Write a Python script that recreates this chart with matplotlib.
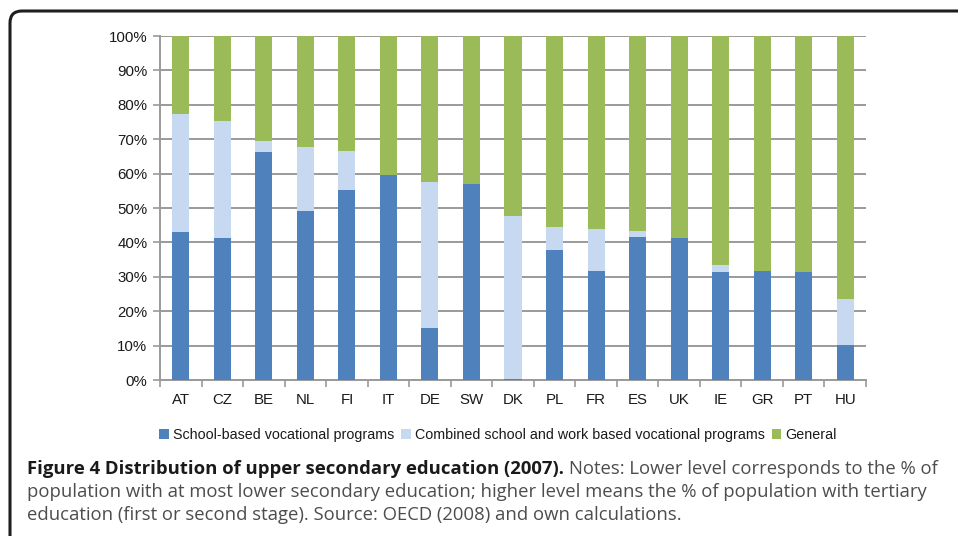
import numpy as np
import matplotlib
matplotlib.use("Agg")
import matplotlib.pyplot as plt
from matplotlib.patches import FancyBboxPatch

# Data (share of upper secondary students, %)
countries = ["AT", "CZ", "BE", "NL", "FI", "IT", "DE", "SW", "DK",
             "PL", "FR", "ES", "UK", "IE", "GR", "PT", "HU"]
school_based = [43.0, 41.3, 66.2, 49.1, 55.3, 59.7, 15.1, 57.1, 0.3,
                37.9, 31.7, 41.5, 41.4, 31.3, 31.7, 31.5, 10.3]
combined = [34.4, 34.0, 3.4, 18.6, 11.4, 0.0, 42.4, 0.0, 47.3,
            6.5, 12.1, 1.9, 0.0, 2.2, 0.0, 0.0, 13.2]
general = [100 - a - b for a, b in zip(school_based, combined)]

series_names = ["School-based vocational programs",
                "Combined school and work based vocational programs",
                "General"]
COLS = ["#4F81BD", "#C6D9F1", "#9BBB59"]

GRID = "#9a9a9a"
TICK_FONT = "Liberation Sans"

fig = plt.figure(figsize=(9.58, 5.36), dpi=100)
ax = fig.add_axes([160 / 958, 1 - 380 / 536, 706 / 958, 344 / 536])

x = np.arange(len(countries))
w = 0.41
bottom = np.zeros(len(countries))
for vals, name, c in zip([school_based, combined, general], series_names, COLS):
    ax.bar(x, vals, w, bottom=bottom, color=c, edgecolor="none", label=name, zorder=3)
    bottom += np.array(vals)

ax.set_xlim(-0.5, len(countries) - 0.5)
ax.set_ylim(0, 100)
ax.set_yticks(np.arange(0, 101, 10))
ax.set_yticklabels([f"{v}%" for v in range(0, 101, 10)], fontsize=10.8, family=TICK_FONT,
                   color="#1a1a1a")
ax.yaxis.grid(True, color=GRID, lw=1.4, zorder=0)
ax.set_axisbelow(True)

# category labels centred, tick marks on the boundaries
ax.set_xticks(x)
ax.set_xticklabels(countries, fontsize=10.8, family=TICK_FONT, color="#1a1a1a")
ax.tick_params(axis="x", which="major", length=0, pad=9)
ax.set_xticks(np.arange(-0.5, len(countries), 1), minor=True)
ax.tick_params(axis="x", which="minor", length=5, width=1.2, color=GRID)
ax.tick_params(axis="y", length=5, width=1.2, color=GRID, pad=4)

for s in ["top", "right"]:
    ax.spines[s].set_visible(False)
for s in ["left", "bottom"]:
    ax.spines[s].set_color(GRID)
    ax.spines[s].set_linewidth(1.4)

leg = fig.legend(loc="center", bbox_to_anchor=(498 / 958, 1 - 435 / 536), ncol=3,
                 frameon=False, handlelength=0.65, handleheight=0.65, handletextpad=0.3,
                 columnspacing=0.5, prop={"family": TICK_FONT, "size": 10.3})
for t in leg.get_texts():
    t.set_color("#1a1a1a")

# rounded frame running off the page
frame = FancyBboxPatch((0.10, -1.0), 12.0, 6.25, boxstyle="round,pad=0,rounding_size=0.12",
                       transform=fig.dpi_scale_trans, fill=False, ec="#1e1e1e", lw=2.2,
                       clip_on=False)
fig.add_artist(frame)

# caption
CAP = "Open Sans"
cap_size = 13.3
t1 = fig.text(27 / 958, 1 - 469 / 536, "Figure 4 Distribution of upper secondary education (2007).",
              fontsize=cap_size, family=CAP, weight="bold", color="#1a1a1a", va="center")
fig.canvas.draw()
bb = t1.get_window_extent()
fig.text(bb.x1 / 958 + 5 / 958, 1 - 469 / 536, "Notes: Lower level corresponds to the % of",
         fontsize=cap_size, family=CAP, color="#4d4d4d", va="center")
fig.text(27 / 958, 1 - 492 / 536,
         "population with at most lower secondary education; higher level means the % of population with tertiary",
         fontsize=cap_size, family=CAP, color="#4d4d4d", va="center")
fig.text(27 / 958, 1 - 515 / 536,
         "education (first or second stage). Source: OECD (2008) and own calculations.",
         fontsize=cap_size, family=CAP, color="#4d4d4d", va="center")

fig.savefig("out.png", dpi=100)
